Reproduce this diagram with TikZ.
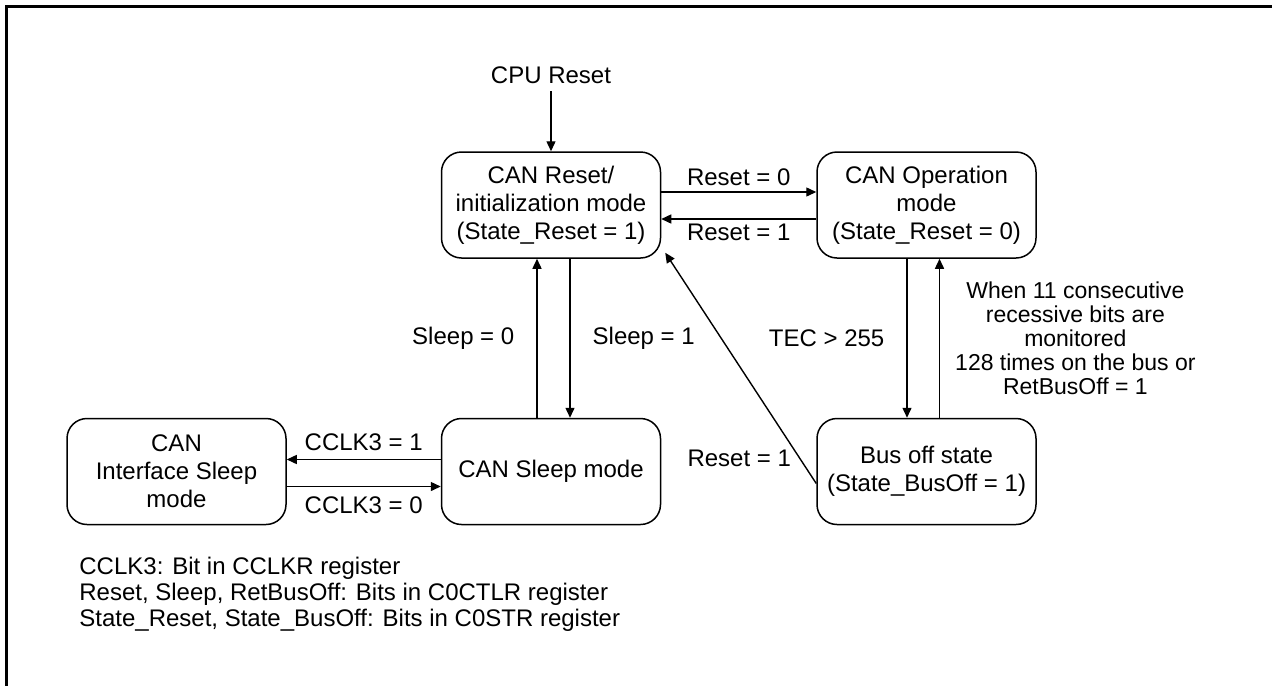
\documentclass[tikz,border=0pt]{standalone}
\usepackage{fontspec}
\setmainfont{Liberation Sans}
\usepackage{tikz}
\usetikzlibrary{arrows.meta,positioning}

\begin{document}
\begin{tikzpicture}[x=0.5pt,y=-0.5pt,node distance=79.5pt and 77.5pt,every node/.style={font=\fontsize{12pt}{14pt}\selectfont,align=center},state/.style={draw,line width=0.75pt,rounded corners=10pt,minimum width=109.5pt,minimum height=53pt,inner sep=1pt},lbl/.style={inner sep=1pt},arr/.style={-{Triangle[length=5pt,width=4.5pt]},line width=0.7pt}]
\useasboundingbox (0,0) rectangle (1272,686);
\draw[line width=1.5pt] (1272,6)--(6,6)--(6,686);
\node[state] (rst) at (551,205) {CAN Reset/\\ initialization mode\\ (State\_Reset = 1)};
\node[state,right=of rst] (oper) {CAN Operation\\ mode\\ (State\_Reset = 0)};
\node[state,below=of rst] (sleep) {CAN Sleep mode};
\node[state,left=77pt of sleep] (ifsleep) {CAN\\ Interface Sleep\\ mode};
\node[state,below=of oper] (busoff) {Bus off state\\ (State\_BusOff = 1)};
\node[above=30pt of rst] (cpu) {CPU Reset};
\node[anchor=north west,align=left,inner sep=0pt,font=\fontsize{12pt}{13pt}\selectfont] (legend) at (79,557) {CCLK3: Bit in CCLKR register\\ Reset, Sleep, RetBusOff: Bits in C0CTLR register\\ State\_Reset, State\_BusOff: Bits in C0STR register};
\draw[arr] (cpu)--(rst);
\draw[arr] ([yshift=6.5pt]rst.east)--([yshift=6.5pt]oper.west) node[midway,above=2pt,lbl] {Reset = 0};
\draw[arr] ([yshift=-7pt]oper.west)--([yshift=-7pt]rst.east) node[midway,below=1.2pt,lbl] {Reset = 1};
\draw[arr] ([xshift=-7pt]sleep.north)--([xshift=-7pt]rst.south) node[midway,left=10pt,lbl] {Sleep = 0};
\draw[arr] ([xshift=9.5pt]rst.south)--([xshift=9.5pt]sleep.north) node[midway,right=10pt,lbl] {Sleep = 1};
\draw[arr] ([xshift=-9.75pt]oper.south)--([xshift=-9.75pt]busoff.north) node[midway,left=10pt,lbl] {TEC > 255};
\draw[arr] ([xshift=6.5pt]busoff.north)--([xshift=6.5pt]oper.south) node[midway,right=6.5pt,lbl,font=\fontsize{11.5pt}{12pt}\selectfont] {When 11 consecutive\\ recessive bits are\\ monitored\\ 128 times on the bus or\\ RetBusOff = 1};
\draw[arr] ([yshift=6pt]sleep.west)--([yshift=6pt]ifsleep.east) node[midway,above=3.2pt,lbl] {CCLK3 = 1};
\draw[arr] ([yshift=-7.5pt]ifsleep.east)--([yshift=-7.5pt]sleep.west) node[midway,below=3.7pt,lbl] {CCLK3 = 0};
\draw[arr] ([yshift=-6pt]busoff.west)--([xshift=2pt,yshift=3pt]rst.south east) node[pos=0.11,left=3pt,lbl] {Reset = 1};
\end{tikzpicture}
\end{document}
